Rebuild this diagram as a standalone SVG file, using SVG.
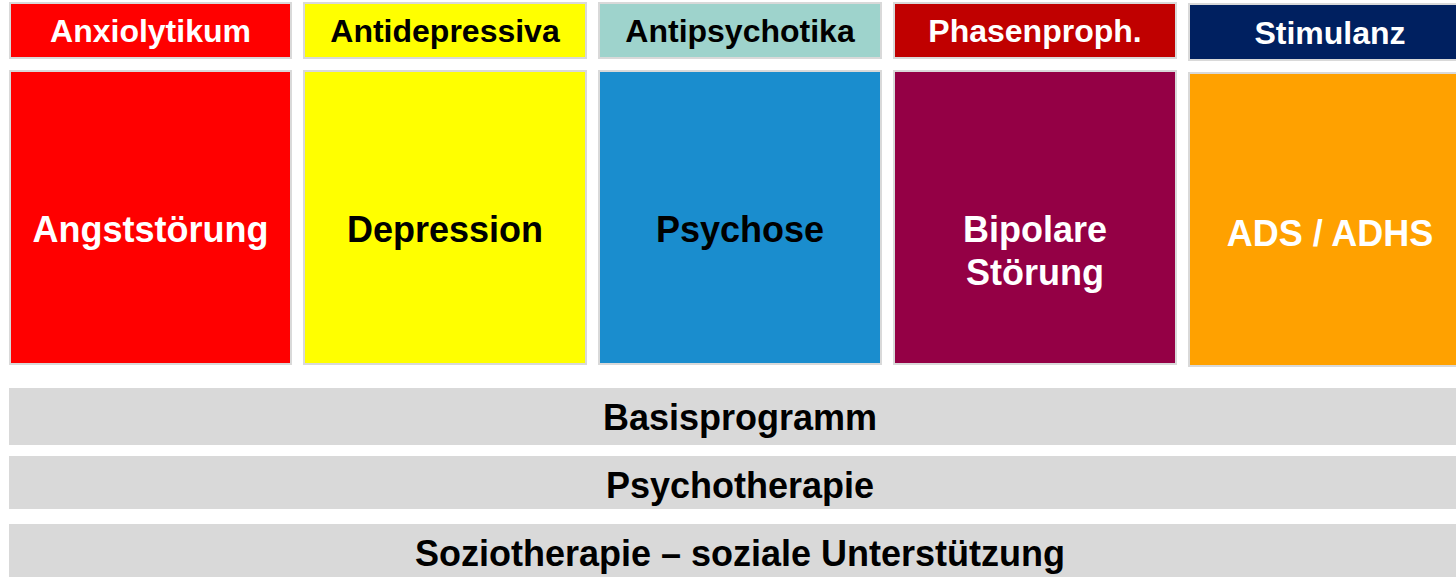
<svg xmlns="http://www.w3.org/2000/svg" width="1456" height="577" viewBox="0 0 1456 577">
<style>
.box{stroke:#d9d9d9;stroke-width:2}
.bar{fill:#d9d9d9}
text{font-family:"Liberation Sans",Arial,sans-serif;font-weight:bold;text-anchor:middle}
.h{font-size:32px}
.b{font-size:36px}
.w{fill:#ffffff}
.k{fill:#000000}
</style>
<rect width="1456" height="577" fill="#ffffff"/>
<g id="col-anxiolytikum">
<rect class="box" x="10" y="3" width="281" height="55" fill="#ff0000"/>
<text class="h w" x="150.5" y="42">Anxiolytikum</text>
</g>
<g id="col-antidepressiva">
<rect class="box" x="304" y="3" width="282" height="55" fill="#ffff00"/>
<text class="h k" x="445" y="42">Antidepressiva</text>
</g>
<g id="col-antipsychotika">
<rect class="box" x="599" y="3" width="282" height="55" fill="#9ed3cc"/>
<text class="h k" x="740" y="42">Antipsychotika</text>
</g>
<g id="col-phasenproph">
<rect class="box" x="894" y="3" width="282" height="55" fill="#c00000"/>
<text class="h w" x="1035" y="42">Phasenproph.</text>
</g>
<g id="col-stimulanz">
<rect class="box" x="1189" y="4" width="284" height="56" fill="#002060"/>
<text class="h w" x="1330" y="44">Stimulanz</text>
</g>
<g id="node-angststoerung">
<rect class="box" x="10" y="71" width="281" height="293" fill="#ff0000"/>
<text class="b w" x="150.5" y="242">Angststörung</text>
</g>
<g id="node-depression">
<rect class="box" x="304" y="71" width="282" height="293" fill="#ffff00"/>
<text class="b k" x="445" y="242">Depression</text>
</g>
<g id="node-psychose">
<rect class="box" x="599" y="71" width="282" height="293" fill="#1a8dce"/>
<text class="b k" x="740" y="242">Psychose</text>
</g>
<g id="node-bipolar">
<rect class="box" x="894" y="71" width="282" height="293" fill="#940045"/>
<text class="b w" x="1035" y="242">Bipolare</text>
<text class="b w" x="1035" y="285">Störung</text>
</g>
<g id="node-adhs">
<rect class="box" x="1189" y="73" width="284" height="293" fill="#ffa100"/>
<text class="b w" x="1330" y="246">ADS / ADHS</text>
</g>
<g id="bar-basis">
<rect class="bar" x="9" y="388" width="1470" height="57"/>
<text class="b k" x="740" y="430">Basisprogramm</text>
</g>
<g id="bar-psychotherapie">
<rect class="bar" x="9" y="456" width="1470" height="53"/>
<text class="b k" x="740" y="498">Psychotherapie</text>
</g>
<g id="bar-soziotherapie">
<rect class="bar" x="9" y="524" width="1470" height="53"/>
<text class="b k" x="740" y="566">Soziotherapie – soziale Unterstützung</text>
</g>
<g id="connectors"/>
</svg>
